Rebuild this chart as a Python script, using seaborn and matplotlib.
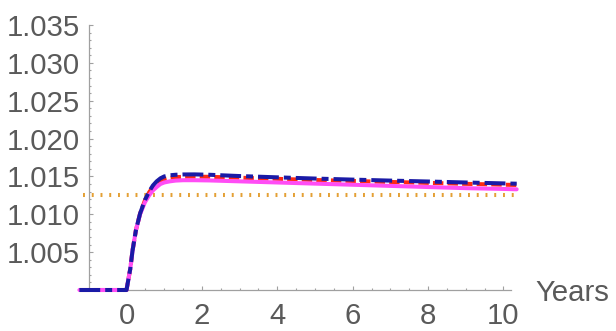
import numpy as np
import pandas as pd
import matplotlib
matplotlib.use("Agg")
import matplotlib.pyplot as plt
import seaborn as sns
from matplotlib.ticker import FixedLocator

# Time axis (years) shared by the three response paths
years = [-1.25, 0.0, 0.05, 0.10, 0.16, 0.25, 0.36, 0.49, 0.60, 0.70, 0.80, 0.90,
         1.00, 1.15, 1.30, 1.50, 1.80, 2.20, 3.0, 4.0, 5.0, 6.0, 7.0, 8.0, 9.0,
         10.0, 10.35]

# Response paths (level relative to baseline 1.0)
path_solid = [1.0, 1.0, 1.0014, 1.0028, 1.0052, 1.0079, 1.0100, 1.0116, 1.0125,
              1.01315, 1.0136, 1.0140, 1.0142, 1.01435, 1.01445, 1.0145, 1.0145,
              1.01447, 1.01435, 1.0142, 1.01405, 1.0139, 1.01375, 1.0136, 1.01345,
              1.01335, 1.0133]
path_dashed = [1.0, 1.0, 1.0014, 1.0028, 1.0052, 1.0079, 1.0101, 1.01185, 1.0129,
               1.0136, 1.0141, 1.01445, 1.01465, 1.01482, 1.0149, 1.01495, 1.01497,
               1.01495, 1.01483, 1.01468, 1.01453, 1.0144, 1.01427, 1.01415, 1.01402,
               1.01391, 1.01387]
path_dashdot = [1.0, 1.0, 1.0014, 1.0028, 1.0052, 1.0079, 1.0101, 1.0119, 1.0130,
                1.0138, 1.01435, 1.01475, 1.0150, 1.01515, 1.01522, 1.01526, 1.01527,
                1.01522, 1.01505, 1.01488, 1.01472, 1.01458, 1.01445, 1.01433, 1.0142,
                1.01408, 1.01404]

reference_level = 1.0125

x_ticks = [0, 2, 4, 6, 8, 10]
y_ticks = [1.005, 1.010, 1.015, 1.020, 1.025, 1.030, 1.035]
y_labels = ["1.005", "1.010", "1.015", "1.020", "1.025", "1.030", "1.035"]
x_label = "Years"

# drawing order: dashed at the bottom, solid above it, dash-dot on top
series_names = ["dashed", "solid", "dashdot"]
series_values = [path_dashed, path_solid, path_dashdot]
series_colors = {"solid": "#FF4DF5", "dashed": "#FF2A12", "dashdot": "#1A1AA6"}
series_dashes = {"solid": "", "dashed": (7.5, 3.0), "dashdot": (15.0, 3.6, 5.0, 3.6)}

df = pd.concat([
    pd.DataFrame({"Years": years, "level": vals, "series": name})
    for name, vals in zip(series_names, series_values)
], ignore_index=True)

sns.set_style("white")
plt.rcParams["font.family"] = ["Liberation Sans", "DejaVu Sans"]
plt.rcParams["lines.scale_dashes"] = False

W, H = 616, 331
fig = plt.figure(figsize=(W / 100, H / 100), dpi=100)

xlim = (-1.3, 10.4)
ylim = (0.9990, 1.0355)
px_per_x = 37.7
x0_px = 126.5
left_px = x0_px + xlim[0] * px_per_x
right_px = x0_px + xlim[1] * px_per_x
px_per_y = 7571.0
y1_px = 290.0
bottom_px = y1_px + (1.0 - ylim[0]) * px_per_y
top_px = y1_px - (ylim[1] - 1.0) * px_per_y
ax = fig.add_axes([left_px / W, 1 - bottom_px / H,
                   (right_px - left_px) / W, (bottom_px - top_px) / H])

# reference level
ax.plot([-1.15, 10.3], [reference_level, reference_level], color="#E4A035",
        lw=2.9, linestyle=(0, (1.4, 4.9)), dash_capstyle="butt", zorder=1)

sns.lineplot(data=df, x="Years", y="level", hue="series", style="series",
             hue_order=series_names, style_order=series_names,
             palette=series_colors, dashes=series_dashes,
             linewidth=2.9, estimator=None, sort=False, legend=False, ax=ax, zorder=3)

ax.set_xlim(*xlim)
ax.set_ylim(*ylim)

for s in ["top", "right"]:
    ax.spines[s].set_visible(False)
ax.spines["left"].set_position(("data", -1.0))
ax.spines["bottom"].set_position(("data", 1.0))
ax.spines["left"].set_bounds(1.0, 1.035)
ax.spines["bottom"].set_bounds(-1.0, 10.2)
for s in ["left", "bottom"]:
    ax.spines[s].set_color("#A0A0A0")
    ax.spines[s].set_linewidth(0.9)
    ax.spines[s].set_zorder(0)

ax.xaxis.set_major_locator(FixedLocator(x_ticks))
ax.xaxis.set_minor_locator(FixedLocator([v for v in np.arange(-0.5, 10.3, 0.5) if v not in x_ticks]))
ax.yaxis.set_major_locator(FixedLocator(y_ticks))
ax.yaxis.set_minor_locator(FixedLocator([1.0 + 0.001 * k for k in range(1, 36) if k % 5 != 0]))
ax.set_xticklabels([str(v) for v in x_ticks])
ax.set_yticklabels(y_labels)

ax.tick_params(which="both", direction="in", color="#A0A0A0", width=0.8,
               labelcolor="#5A5A5A", labelsize=21.2)
ax.tick_params(which="major", length=3.0)
ax.tick_params(which="minor", length=1.6)
ax.tick_params(axis="y", which="both", pad=6.5, left=True)
ax.tick_params(axis="x", which="both", pad=9.0, bottom=True)
ax.set_xlabel("")
ax.set_ylabel("")

fig.text(535 / W, 1 - 293 / H, x_label, ha="left", va="center",
         fontsize=21.2, color="#5A5A5A")

fig.savefig("out.png", dpi=100)
